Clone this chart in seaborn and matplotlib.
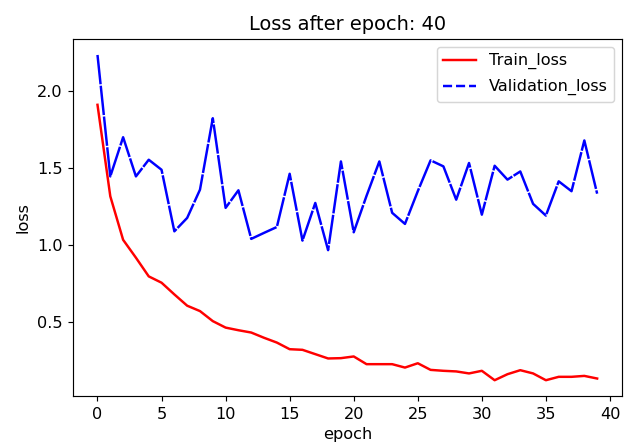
import matplotlib
matplotlib.use("Agg")
import matplotlib.pyplot as plt
from matplotlib.lines import Line2D
import numpy as np
import pandas as pd
import seaborn as sns

epochs = list(range(40))
train_loss = [1.91, 1.317, 1.035, 0.919, 0.798, 0.757, 0.681, 0.608, 0.573, 0.508,
              0.466, 0.449, 0.434, 0.400, 0.369, 0.326, 0.322, 0.294, 0.266, 0.268,
              0.279, 0.229, 0.229, 0.229, 0.207, 0.235, 0.192, 0.186, 0.182, 0.169,
              0.186, 0.125, 0.164, 0.190, 0.169, 0.125, 0.147, 0.147, 0.153, 0.136]
val_loss = [2.233, 1.446, 1.700, 1.446, 1.554, 1.489, 1.090, 1.177, 1.360, 1.823,
            1.242, 1.356, 1.041, 1.080, 1.118, 1.463, 1.030, 1.274, 0.968, 1.543,
            1.084, 1.320, 1.543, 1.210, 1.138, 1.350, 1.550, 1.511, 1.295, 1.533,
            1.198, 1.515, 1.425, 1.478, 1.268, 1.192, 1.414, 1.350, 1.679, 1.334]
labels = ["Train_loss", "Validation_loss"]

df = pd.DataFrame({"epoch": epochs, "train": train_loss, "val": val_loss})

plt.rcParams["font.size"] = 11.2
plt.rcParams["legend.labelspacing"] = 0.6

fig = plt.figure(figsize=(6.0, 448 / 104), dpi=104)
ax = fig.add_axes([0.1162, 0.115, 0.997 - 0.1162, 0.9136 - 0.115])

lw = 1.7
sns.lineplot(data=df, x="epoch", y="train", color="red", ax=ax, label=labels[0], linewidth=lw)
sns.lineplot(data=df, x="epoch", y="val", color="blue", ax=ax, label=labels[1],
             linewidth=lw, linestyle=(0, (12, 0.6)))

handles = [Line2D([], [], color="red", lw=lw, linestyle="-"),
           Line2D([], [], color="blue", lw=lw, linestyle="--")]
ax.legend(handles=handles, labels=labels, loc="upper right")

ax.set_title("Loss after epoch: 40")
ax.set_xlabel("epoch")
ax.set_ylabel("loss")
ax.set_yticks([0.5, 1.0, 1.5, 2.0])
ax.set_xticks([0, 5, 10, 15, 20, 25, 30, 35, 40])

fig.savefig("out.png", dpi=104)
